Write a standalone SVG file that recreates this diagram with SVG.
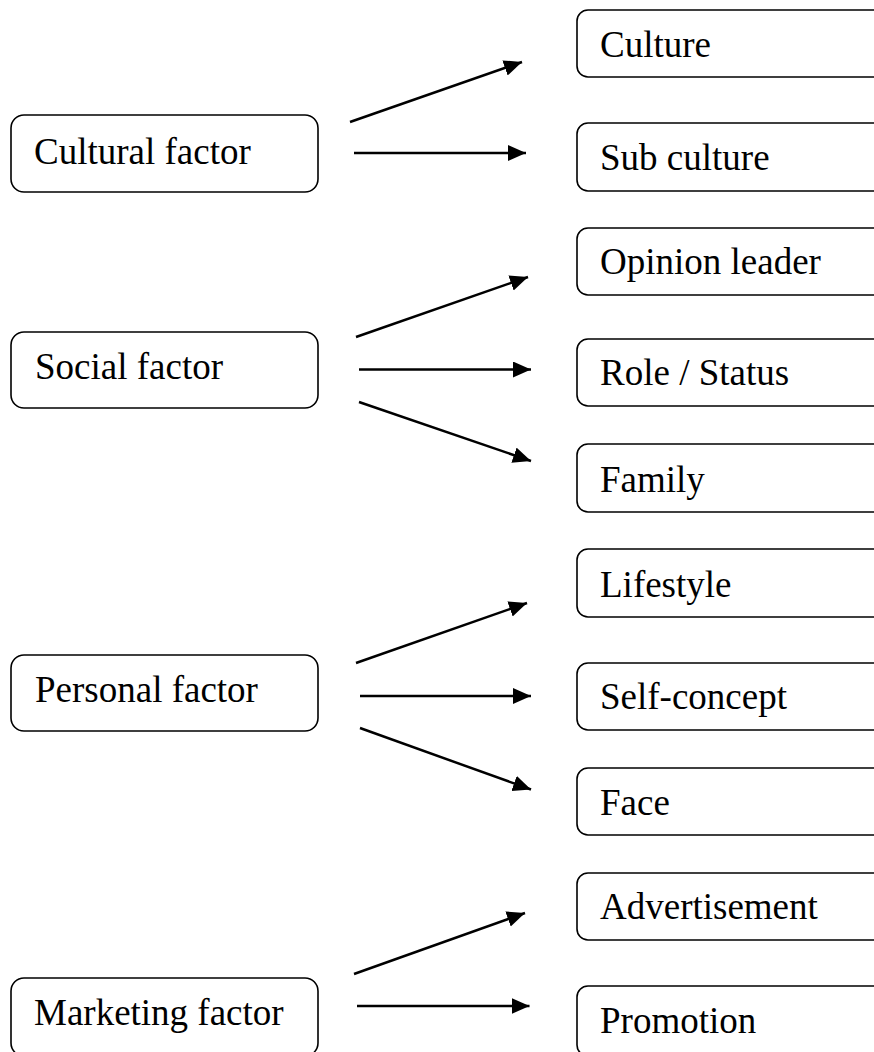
<svg xmlns="http://www.w3.org/2000/svg" width="874" height="1052" viewBox="0 0 874 1052">
<style>
.box{fill:#fff;stroke:#000;stroke-width:1.6}
.lbl{font-family:'Liberation Serif','Times New Roman',Tinos,'DejaVu Serif',serif;font-size:37px;fill:#000}
.arr{stroke:#000;stroke-width:2.5;fill:none;marker-end:url(#ah)}
</style>
<defs>
<marker id="ah" markerUnits="userSpaceOnUse" markerWidth="19" markerHeight="17" refX="18" refY="8" orient="auto">
<path d="M0,0 L18,8 L0,16 Z" fill="#000"/>
</marker>
</defs>
<rect width="874" height="1052" fill="#fff"/>
<g id="cultural-factor"><rect class="box" x="11" y="115" width="307" height="77" rx="13"/><text class="lbl" font-family="Liberation Serif, serif" x="34" y="164">Cultural factor</text></g>
<g id="social-factor"><rect class="box" x="11" y="332" width="307" height="76" rx="13"/><text class="lbl" x="35" y="379">Social factor</text></g>
<g id="personal-factor"><rect class="box" x="11" y="655" width="307" height="76" rx="13"/><text class="lbl" x="35" y="702">Personal factor</text></g>
<g id="marketing-factor"><rect class="box" x="11" y="978" width="307" height="78" rx="13"/><text class="lbl" x="34" y="1025">Marketing factor</text></g>
<g id="culture"><rect class="box" x="577" y="10" width="320" height="67" rx="11"/><text class="lbl" x="600" y="57">Culture</text></g>
<g id="sub-culture"><rect class="box" x="577" y="123" width="320" height="68" rx="11"/><text class="lbl" x="600" y="170">Sub culture</text></g>
<g id="opinion-leader"><rect class="box" x="577" y="228" width="320" height="67" rx="11"/><text class="lbl" x="600" y="274">Opinion leader</text></g>
<g id="role-status"><rect class="box" x="577" y="339" width="320" height="67" rx="11"/><text class="lbl" x="600" y="385">Role / Status</text></g>
<g id="family"><rect class="box" x="577" y="444" width="320" height="68" rx="11"/><text class="lbl" x="600" y="492">Family</text></g>
<g id="lifestyle"><rect class="box" x="577" y="549" width="320" height="68" rx="11"/><text class="lbl" x="600" y="597">Lifestyle</text></g>
<g id="self-concept"><rect class="box" x="577" y="663" width="320" height="67" rx="11"/><text class="lbl" x="600" y="709">Self-concept</text></g>
<g id="face"><rect class="box" x="577" y="768" width="320" height="67" rx="11"/><text class="lbl" x="600" y="815">Face</text></g>
<g id="advertisement"><rect class="box" x="577" y="873" width="320" height="67" rx="11"/><text class="lbl" x="600" y="919">Advertisement</text></g>
<g id="promotion"><rect class="box" x="577" y="986" width="320" height="70" rx="11"/><text class="lbl" x="600" y="1033">Promotion</text></g>
<g id="connectors">
<line class="arr" x1="350" y1="122" x2="522" y2="62"/>
<line class="arr" x1="354" y1="153" x2="526" y2="153"/>
<line class="arr" x1="356" y1="337" x2="528" y2="277"/>
<line class="arr" x1="359" y1="369.5" x2="531" y2="369.5"/>
<line class="arr" x1="359" y1="402" x2="531" y2="461"/>
<line class="arr" x1="356" y1="663" x2="527" y2="603"/>
<line class="arr" x1="360" y1="696" x2="531" y2="696"/>
<line class="arr" x1="360" y1="728" x2="531" y2="789.5"/>
<line class="arr" x1="354" y1="974" x2="525" y2="913"/>
<line class="arr" x1="357" y1="1006" x2="529.5" y2="1006"/>
</g>
</svg>
